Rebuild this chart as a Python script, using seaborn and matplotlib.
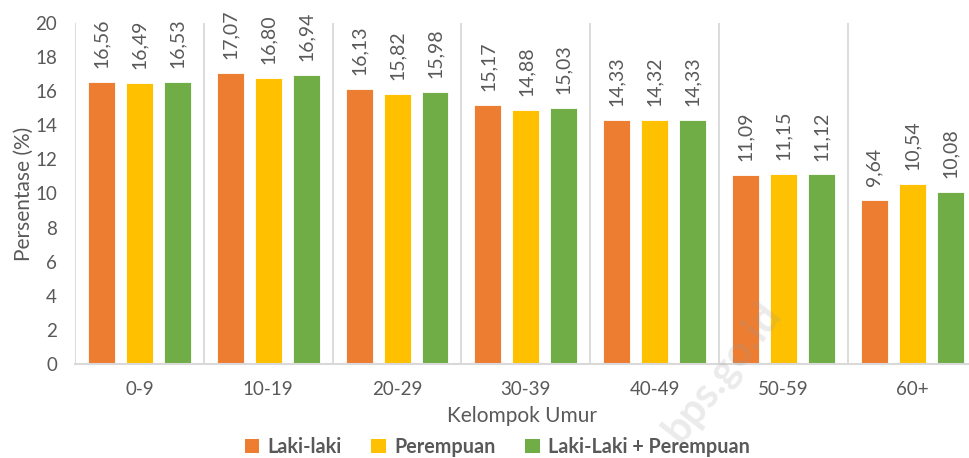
import matplotlib
matplotlib.use("Agg")
import matplotlib.pyplot as plt
import seaborn as sns
import pandas as pd
from matplotlib.patches import Patch

age_groups = ["0-9", "10-19", "20-29", "30-39", "40-49", "50-59", "60+"]
laki = [16.56, 17.07, 16.13, 15.17, 14.33, 11.09, 9.64]
perempuan = [16.49, 16.80, 15.82, 14.88, 14.32, 11.15, 10.54]
total = [16.53, 16.94, 15.98, 15.03, 14.33, 11.12, 10.08]
series_names = ["Laki-laki", "Perempuan", "Laki-Laki + Perempuan"]
colors = ["#ED7D31", "#FFC000", "#70AD47"]
yticks = [0, 2, 4, 6, 8, 10, 12, 14, 16, 18, 20]

df = pd.DataFrame({
    "Kelompok Umur": age_groups * 3,
    "Persentase": laki + perempuan + total,
    "Seri": [s for s in series_names for _ in age_groups],
})

sns.set_theme(style="white")
plt.rcParams["font.family"] = ["Lato", "DejaVu Sans"]
text_color = "#595959"
grid_color = "#D9D9D9"

fig = plt.figure(figsize=(9.69, 4.58), dpi=100)
ax = fig.add_axes([75 / 969, 94 / 458, 1 - 75 / 969, 341 / 458])

sns.barplot(data=df, x="Kelompok Umur", y="Persentase", hue="Seri",
            hue_order=series_names, order=age_groups, palette=colors,
            width=0.884, gap=0.29, saturation=1, edgecolor="white",
            linewidth=0.6, legend=False, ax=ax)

for cont in ax.containers:
    vals = cont.datavalues
    ax.bar_label(cont, labels=[f"{v:.2f}".replace(".", ",") for v in vals],
                 rotation=90, padding=10, fontsize=14, color=text_color)

ax.set_ylim(0, 20)
ax.set_yticks(yticks)
ax.set_xlim(-0.5, 6.44)

# separators between age groups
for b in range(len(age_groups)):
    ax.axvline(b - 0.5, color=grid_color, lw=1.3, zorder=0)

for s in ["top", "right", "left"]:
    ax.spines[s].set_visible(False)
ax.spines["bottom"].set_color(grid_color)
ax.spines["bottom"].set_linewidth(1.5)

ax.tick_params(axis="both", length=0, labelsize=13.5, labelcolor=text_color)
ax.tick_params(axis="y", pad=13)
ax.tick_params(axis="x", pad=12)
ax.set_xlabel("Kelompok Umur", fontsize=15, color=text_color, labelpad=6)
ax.set_ylabel("Persentase (%)", fontsize=15, color=text_color, labelpad=1)

handles = [Patch(facecolor=c, edgecolor="none") for c in colors]
leg = fig.legend(handles, series_names, loc="center", bbox_to_anchor=(0.513, 11 / 458),
                 ncol=3, frameon=False, handlelength=0.75, handleheight=0.75,
                 handletextpad=0.4, columnspacing=1.5,
                 prop={"weight": "bold", "size": 14.2})
for t in leg.get_texts():
    t.set_color(text_color)

fig.text(722 / 969, 1 - 372 / 458, "bps.go.id", rotation=52, fontsize=30,
         fontweight="bold", color="#9A9A9A", alpha=0.2, ha="center", va="center")

fig.savefig("out.png", dpi=100)
